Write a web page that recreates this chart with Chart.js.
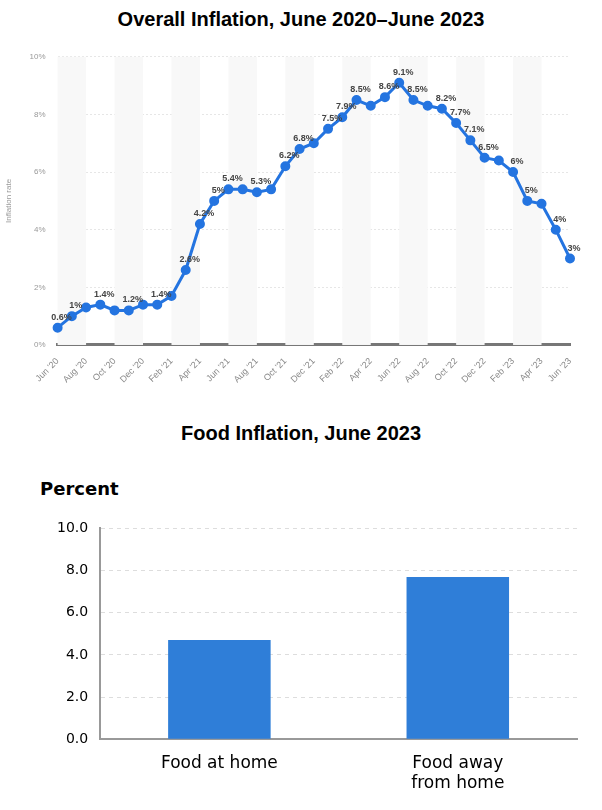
<!DOCTYPE html>
<html lang="en">
<head>
    <meta charset="UTF-8">
    <title>Inflation</title>
    <script src="https://cdn.jsdelivr.net/npm/chart.js"></script>
    <style>
        body { margin:0; width:602px; height:810px; background:#fff; font-family:"Liberation Sans", Arial, sans-serif; position:relative; overflow:hidden; }
        h1 { position:absolute; margin:0; left:0; width:602px; text-align:center; font-size:20px; font-weight:bold; color:#000; }
        #top { position:absolute; left:0; top:40px; width:590px; height:348px; }
        #bottom { position:absolute; left:0; top:508px; width:602px; height:292px; }
        #percent { position:absolute; left:40px; top:478px; font-family:"DejaVu Sans", sans-serif; font-weight:bold; font-size:18px; }
    </style>
</head>
<body>
    <h1 style="top:8px">Overall Inflation, June 2020–June 2023</h1>
    <div id="top"><canvas id="lineChart"></canvas></div>
    <h1 style="top:422px">Food Inflation, June 2023</h1>
    <div id="percent">Percent</div>
    <div id="bottom"><canvas id="barChart"></canvas></div>

    <script>
        // monthly inflation rate, Jun 2020 - Jun 2023
        const months = ["Jun '20","Jul '20","Aug '20","Sep '20","Oct '20","Nov '20","Dec '20",
            "Jan '21","Feb '21","Mar '21","Apr '21","May '21","Jun '21","Jul '21","Aug '21","Sep '21","Oct '21","Nov '21","Dec '21",
            "Jan '22","Feb '22","Mar '22","Apr '22","May '22","Jun '22","Jul '22","Aug '22","Sep '22","Oct '22","Nov '22","Dec '22",
            "Jan '23","Feb '23","Mar '23","Apr '23","May '23","Jun '23"];
        const inflation = [0.6,1.0,1.3,1.4,1.2,1.2,1.4, 1.4,1.7,2.6,4.2,5.0,5.4,5.4,5.3,5.4,6.2,6.8,7.0,
            7.5,7.9,8.5,8.3,8.6,9.1,8.5,8.3,8.2,7.7,7.1,6.5, 6.4,6.0,5.0,4.9,4.0,3.0];
        // value labels shown on the chart (empty = no label)
        const labelText = ["0.6%","1%","","1.4%","","1.2%","", "1.4%","","2.6%","4.2%","5%","5.4%","","5.3%","","6.2%","6.8%","",
            "7.5%","7.9%","8.5%","","8.6%","9.1%","8.5%","","8.2%","7.7%","7.1%","6.5%", "","6%","5%","","4%","3%"];

        const foodCategories = ["Food at home", ["Food away", "from home"]];
        const foodValues = [4.7, 7.7];

        const bandPlugin = {
            id: 'bands',
            beforeDatasetsDraw(chart) {
                const {ctx, chartArea, scales} = chart;
                ctx.save();
                ctx.fillStyle = '#f8f8f8';
                for (let i = 0; i < months.length - 1; i += 4) {
                    const x1 = scales.x.getPixelForValue(i);
                    const x2 = scales.x.getPixelForValue(Math.min(i + 2, months.length - 1));
                    ctx.fillRect(x1, chartArea.top, x2 - x1, chartArea.bottom - chartArea.top);
                }
                ctx.restore();
            }
        };

        const labelPlugin = {
            id: 'pointLabels',
            afterDatasetsDraw(chart) {
                const {ctx} = chart;
                const meta = chart.getDatasetMeta(0);
                ctx.save();
                ctx.font = 'bold 9px "Liberation Sans", Arial, sans-serif';
                ctx.fillStyle = '#444';
                ctx.textAlign = 'center';
                ctx.textBaseline = 'bottom';
                meta.data.forEach((pt, i) => {
                    if (!labelText[i]) return;
                    ctx.fillText(labelText[i], pt.x + 4, pt.y - 6);
                });
                ctx.restore();
            }
        };

        new Chart(document.getElementById('lineChart'), {
            type: 'line',
            data: {
                labels: months,
                datasets: [{
                    data: inflation,
                    borderColor: '#2474e0',
                    backgroundColor: '#2474e0',
                    borderWidth: 3,
                    pointRadius: 3.5,
                    tension: 0
                }]
            },
            options: {
                responsive: true,
                maintainAspectRatio: false,
                animation: false,
                layout: { padding: { top: 12, right: 20 } },
                plugins: { legend: { display: false }, tooltip: { enabled: false } },
                scales: {
                    x: {
                        offset: false,
                        grid: { display: false },
                        border: { color: '#777', width: 3 },
                        ticks: {
                            autoSkip: false, maxRotation: 45, minRotation: 45,
                            color: '#888', font: { size: 9 },
                            callback: (v, i) => i % 2 === 0 ? months[i] : ''
                        }
                    },
                    y: {
                        min: 0, max: 10,
                        grid: { color: c => c.tick.value === 0 ? 'rgba(0,0,0,0)' : '#e6e6e6', drawTicks: false },
                        border: { display: false, dash: [2, 2] },
                        ticks: { stepSize: 2, color: '#999', font: { size: 8 }, padding: 12, callback: v => v + '%' },
                        title: { display: true, text: 'Inflation rate', color: '#999', font: { size: 8 } }
                    }
                }
            },
            plugins: [bandPlugin, labelPlugin]
        });

        new Chart(document.getElementById('barChart'), {
            type: 'bar',
            data: {
                labels: foodCategories,
                datasets: [{
                    data: foodValues,
                    backgroundColor: '#2f7ed8',
                    barPercentage: 0.43,
                    categoryPercentage: 1
                }]
            },
            options: {
                responsive: true,
                maintainAspectRatio: false,
                animation: false,
                layout: { padding: { top: 8, right: 25, left: 45 } },
                plugins: { legend: { display: false }, tooltip: { enabled: false } },
                scales: {
                    x: {
                        grid: { display: false },
                        border: { color: '#999', width: 2 },
                        ticks: { color: '#000', padding: 6, font: { family: '"DejaVu Sans", sans-serif', size: 17 } }
                    },
                    y: {
                        min: 0, max: 10,
                        grid: { color: c => c.tick.value === 0 ? 'rgba(0,0,0,0)' : '#ddd', drawTicks: false },
                        border: { color: '#999', width: 2, dash: [4, 4] },
                        ticks: { stepSize: 2, color: '#000', padding: 12, font: { family: '"DejaVu Sans", sans-serif', size: 14 }, callback: v => v.toFixed(1) }
                    }
                }
            }
        });
    </script>
</body>
</html>
